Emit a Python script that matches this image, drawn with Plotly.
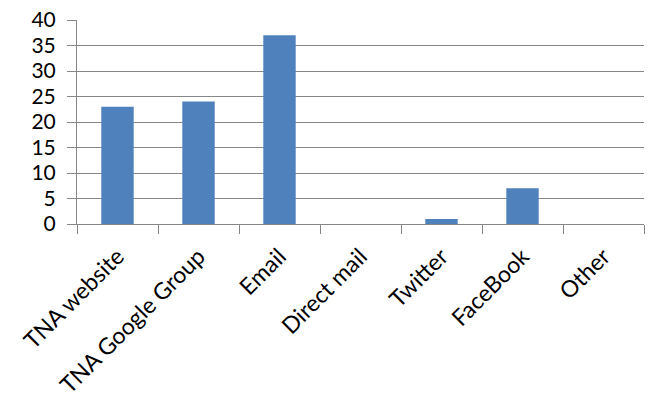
import plotly.graph_objects as go

categories = ["TNA website", "TNA Google Group", "Email", "Direct mail", "Twitter", "FaceBook", "Other"]
values = [23, 24, 37, 0, 1, 7, 0]
y_ticks = [0, 5, 10, 15, 20, 25, 30, 35, 40]

grid = "#878787"
fig = go.Figure(go.Bar(x=categories, y=values, marker=dict(color="#4F81BD", line=dict(width=0))))
fig.update_layout(
    width=656, height=405,
    margin=dict(l=77, r=12, t=20, b=181),
    paper_bgcolor="white", plot_bgcolor="white",
    bargap=0.6,
    font=dict(family="Lato, sans-serif", size=21, color="black"),
    showlegend=False,
)
fig.update_yaxes(range=[0, 40], tickvals=y_ticks, showgrid=True, gridcolor=grid, gridwidth=1,
                 showline=True, linecolor=grid, linewidth=1, ticks="outside", ticklen=9,
                 tickcolor=grid, zeroline=False, ticklabelstandoff=7,
                 tickfont=dict(size=21), automargin=False)
fig.update_xaxes(tickangle=-45, showline=True, linecolor=grid, linewidth=1, ticks="outside",
                 tickson="boundaries", ticklen=9, tickcolor=grid, showgrid=False,
                 ticklabelstandoff=9, tickfont=dict(size=23), automargin=False)
fig.write_html("out.html")
